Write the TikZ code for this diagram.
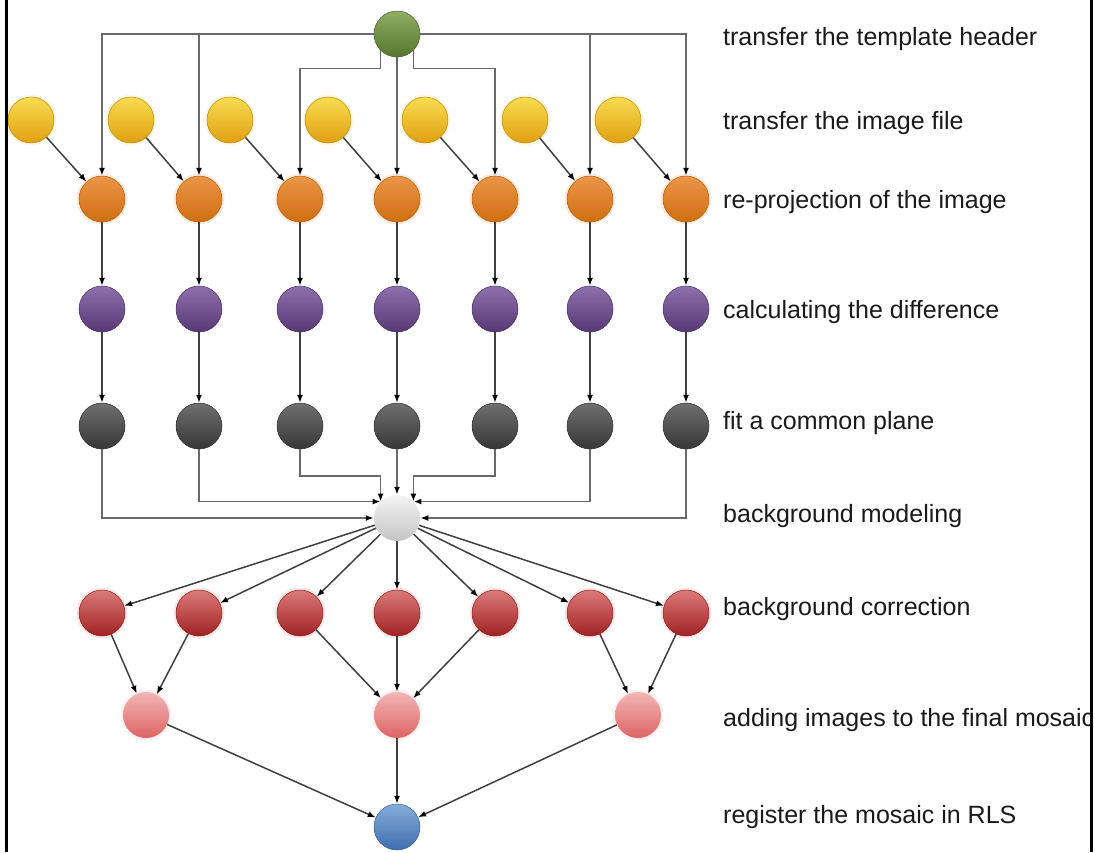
\documentclass[tikz,border=0pt]{standalone}
\usepackage{fontspec}
\setmainfont{Liberation Sans}
\usetikzlibrary{arrows.meta}

\definecolor{hdrline}{HTML}{6A6A6A}
\definecolor{edgeline}{HTML}{404040}
\definecolor{labeltext}{HTML}{1A1A1A}
\definecolor{greenT}{HTML}{8FAE64}  \definecolor{greenB}{HTML}{56752E}
\definecolor{yellowT}{HTML}{F8DC50} \definecolor{yellowB}{HTML}{E0A012}
\definecolor{orangeT}{HTML}{EA9548} \definecolor{orangeB}{HTML}{D06E10}
\definecolor{purpleT}{HTML}{8E70AC} \definecolor{purpleB}{HTML}{573874}
\definecolor{darkT}{HTML}{707070}   \definecolor{darkB}{HTML}{363636}
\definecolor{lightT}{HTML}{F4F4F4}  \definecolor{lightB}{HTML}{C4C4C4}
\definecolor{redT}{HTML}{DC7A7A}    \definecolor{redB}{HTML}{A02222}
\definecolor{pinkT}{HTML}{F2B6B6}   \definecolor{pinkB}{HTML}{DE6464}
\definecolor{blueT}{HTML}{86AEDC}   \definecolor{blueB}{HTML}{3F6DAE}

\tikzset{
  ball/.style 2 args={circle, minimum size=46pt, inner sep=0pt,
    top color=#1, bottom color=#2, draw=#2!85!black, line width=0.5pt},
  halo/.style={circle, minimum size=51pt, inner sep=0pt, fill=#1, opacity=0.18},
  tip/.style={arrows={-{Latex[length=8pt,width=6pt,color=black]}}},
  edge/.style={draw=edgeline, line width=1.5pt, tip},
  route/.style={draw=hdrline, line width=1.7pt, tip},
  steplabel/.style={anchor=mid west, text=labeltext, inner sep=0pt,
    font=\fontsize{25}{30}\selectfont},
}

\begin{document}
\begin{tikzpicture}[x=1pt, y=-1pt]
\useasboundingbox (0,0) rectangle (1095,852);
\fill[white] (0,0) rectangle (1095,852);

% soft glow behind the warm-coloured stages
\foreach \x in {31,131,230,328,425,525,618} \node[halo=yellowT] at (\x,120) {};
\foreach \x in {102,199,300,397,495,590,686} \node[halo=orangeT] at (\x,199) {};
\foreach \x in {102,199,300,397,495,590,686} \node[halo=redT] at (\x,613) {};
\foreach \x in {146,397,638} \node[halo=pinkT] at (\x,715) {};

% header node
\node[ball={greenT}{greenB}] (g) at (397,34) {};

% image transfers
\node[ball={yellowT}{yellowB}] (y1) at (31,120) {};
\node[ball={yellowT}{yellowB}] (y2) at (131,120) {};
\node[ball={yellowT}{yellowB}] (y3) at (230,120) {};
\node[ball={yellowT}{yellowB}] (y4) at (328,120) {};
\node[ball={yellowT}{yellowB}] (y5) at (425,120) {};
\node[ball={yellowT}{yellowB}] (y6) at (525,120) {};
\node[ball={yellowT}{yellowB}] (y7) at (618,120) {};

% re-projection
\node[ball={orangeT}{orangeB}] (o1) at (102,199) {};
\node[ball={orangeT}{orangeB}] (o2) at (199,199) {};
\node[ball={orangeT}{orangeB}] (o3) at (300,199) {};
\node[ball={orangeT}{orangeB}] (o4) at (397,199) {};
\node[ball={orangeT}{orangeB}] (o5) at (495,199) {};
\node[ball={orangeT}{orangeB}] (o6) at (590,199) {};
\node[ball={orangeT}{orangeB}] (o7) at (686,199) {};

% differences
\node[ball={purpleT}{purpleB}] (p1) at (102,309) {};
\node[ball={purpleT}{purpleB}] (p2) at (199,309) {};
\node[ball={purpleT}{purpleB}] (p3) at (300,309) {};
\node[ball={purpleT}{purpleB}] (p4) at (397,309) {};
\node[ball={purpleT}{purpleB}] (p5) at (495,309) {};
\node[ball={purpleT}{purpleB}] (p6) at (590,309) {};
\node[ball={purpleT}{purpleB}] (p7) at (686,309) {};

% plane fits
\node[ball={darkT}{darkB}] (k1) at (102,426) {};
\node[ball={darkT}{darkB}] (k2) at (199,426) {};
\node[ball={darkT}{darkB}] (k3) at (300,426) {};
\node[ball={darkT}{darkB}] (k4) at (397,426) {};
\node[ball={darkT}{darkB}] (k5) at (495,426) {};
\node[ball={darkT}{darkB}] (k6) at (590,426) {};
\node[ball={darkT}{darkB}] (k7) at (686,426) {};

% background model
\node[ball={lightT}{lightB}, draw=none] (bg) at (397,518) {};

% background corrections
\node[ball={redT}{redB}] (r1) at (102,613) {};
\node[ball={redT}{redB}] (r2) at (199,613) {};
\node[ball={redT}{redB}] (r3) at (300,613) {};
\node[ball={redT}{redB}] (r4) at (397,613) {};
\node[ball={redT}{redB}] (r5) at (495,613) {};
\node[ball={redT}{redB}] (r6) at (590,613) {};
\node[ball={redT}{redB}] (r7) at (686,613) {};

% mosaic additions
\node[ball={pinkT}{pinkB}, draw=none] (m1) at (146,715) {};
\node[ball={pinkT}{pinkB}, draw=none] (m2) at (397,715) {};
\node[ball={pinkT}{pinkB}, draw=none] (m3) at (638,715) {};

% registration
\node[ball={blueT}{blueB}] (b) at (397,827) {};

% header fan-out
\draw[route] (g.west) -| (o1.north);
\draw[route] (g.west) -| (o2.north);
\draw[route] (g.east) -| (o6.north);
\draw[route] (g.east) -| (o7.north);
\draw[route] (g.south west) -- ++(0,18) -| (o3.north);
\draw[route] (g.south) -- (o4.north);
\draw[route] (g.south east) -- ++(0,18) -| (o5.north);

% image file into re-projection, then down each column
\foreach \i in {1,...,7} {
  \draw[edge] (y\i) -- (o\i);
  \draw[edge] (o\i) -- (p\i);
  \draw[edge] (p\i) -- (k\i);
}

% plane fits gathered into the background model
\draw[route] (k1.south) |- (bg.west);
\draw[route] (k2.south) |- (bg.135);
\draw[route] (k3.south) -- ++(0,27) -| (bg.135);
\draw[route] (k4.south) -- (bg.north);
\draw[route] (k5.south) -- ++(0,27) -| (bg.45);
\draw[route] (k6.south) |- (bg.45);
\draw[route] (k7.south) |- (bg.east);

% corrections
\foreach \i in {1,...,7} \draw[edge] (bg) -- (r\i);

% mosaic assembly
\draw[edge] (r1) -- (m1);
\draw[edge] (r2) -- (m1);
\draw[edge] (r3) -- (m2);
\draw[edge] (r4) -- (m2);
\draw[edge] (r5) -- (m2);
\draw[edge] (r6) -- (m3);
\draw[edge] (r7) -- (m3);
\draw[edge] (m1) -- (b);
\draw[edge] (m2) -- (b);
\draw[edge] (m3) -- (b);

% stage labels
\begin{scope}
\clip (0,0) rectangle (1090,852);
\node[steplabel] (t1) at (723,43)  {transfer the template header};
\node[steplabel] (t2) at (723,127) {transfer the image file};
\node[steplabel] (t3) at (723,206) {re-projection of the image};
\node[steplabel] (t4) at (723,316) {calculating the difference};
\node[steplabel] (t5) at (723,427) {fit a common plane};
\node[steplabel] (t6) at (723,520) {background modeling};
\node[steplabel] (t7) at (723,613) {background correction};
\node[steplabel] (t8) at (723,724) {adding images to the final mosaic};
\node[steplabel] (t9) at (723,821) {register the mosaic in RLS};
\end{scope}

% frame
\draw[line width=2.6pt] (6.5,0) -- (6.5,852);
\draw[line width=2.6pt] (1091.5,0) -- (1091.5,852);
\end{tikzpicture}
\end{document}
